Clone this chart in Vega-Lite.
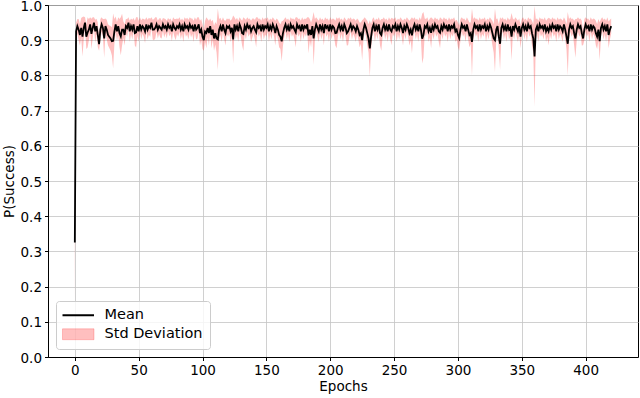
{
"$schema": "https://vega.github.io/schema/vega-lite/v6.json",
"autosize": {"type": "none"},
"width": 590,
"height": 352,
"padding": {"left": 48, "top": 5, "right": 2, "bottom": 41},
"background": "white",
"config": {
  "view": {"stroke": "#000000", "strokeWidth": 1},
  "axis": {"labelFont": "DejaVu Sans", "labelFontSize": 13.5, "labelColor": "#000000", "titleFont": "DejaVu Sans", "titleFontSize": 13.5, "titleFontWeight": "normal", "titleColor": "#000000", "domainColor": "#000000", "tickColor": "#000000", "tickSize": 3.5, "labelPadding": 3, "gridColor": "#c4c4c4", "gridWidth": 0.8, "domainWidth": 1, "tickWidth": 1, "labelOverlap": false, "labelBound": false},
  "legend": {"labelFont": "DejaVu Sans", "labelFontSize": 14.5, "labelColor": "#000000"}
},
"data": {"values": [
{"e":0,"m":0.325,"s":0.17},
{"e":1,"m":0.925,"s":0.025},{"e":2,"m":0.94,"s":0.02},{"e":3,"m":0.93,"s":0.03},{"e":4,"m":0.915,"s":0.03},{"e":5,"m":0.935,"s":0.028},{"e":6,"m":0.91,"s":0.056},{"e":7,"m":0.935,"s":0.032},{"e":8,"m":0.95,"s":0.015},{"e":9,"m":0.91,"s":0.035},{"e":10,"m":0.922,"s":0.043},
{"e":11,"m":0.93,"s":0.03},{"e":12,"m":0.945,"s":0.02},{"e":13,"m":0.918,"s":0.043},{"e":14,"m":0.935,"s":0.03},{"e":15,"m":0.95,"s":0.015},{"e":16,"m":0.925,"s":0.033},{"e":17,"m":0.94,"s":0.021},{"e":18,"m":0.915,"s":0.035},{"e":19,"m":0.889,"s":0.019},{"e":20,"m":0.93,"s":0.03},
{"e":21,"m":0.945,"s":0.02},{"e":22,"m":0.935,"s":0.025},{"e":23,"m":0.905,"s":0.055},{"e":24,"m":0.94,"s":0.022},{"e":25,"m":0.93,"s":0.028},{"e":26,"m":0.915,"s":0.03},{"e":27,"m":0.91,"s":0.032},{"e":28,"m":0.905,"s":0.035},{"e":29,"m":0.897,"s":0.04},{"e":30,"m":0.898,"s":0.078},
{"e":31,"m":0.925,"s":0.035},{"e":32,"m":0.945,"s":0.022},{"e":33,"m":0.925,"s":0.027},{"e":34,"m":0.94,"s":0.025},{"e":35,"m":0.92,"s":0.04},{"e":36,"m":0.911,"s":0.054},{"e":37,"m":0.93,"s":0.045},{"e":38,"m":0.93,"s":0.024},{"e":39,"m":0.915,"s":0.03},{"e":40,"m":0.94,"s":0.02},
{"e":41,"m":0.935,"s":0.025},{"e":42,"m":0.95,"s":0.015},{"e":43,"m":0.925,"s":0.03},{"e":44,"m":0.94,"s":0.022},{"e":45,"m":0.93,"s":0.028},{"e":46,"m":0.945,"s":0.018},{"e":47,"m":0.92,"s":0.035},{"e":48,"m":0.922,"s":0.043},{"e":49,"m":0.94,"s":0.026},{"e":50,"m":0.925,"s":0.03},
{"e":51,"m":0.945,"s":0.02},{"e":52,"m":0.93,"s":0.027},{"e":53,"m":0.94,"s":0.022},{"e":54,"m":0.935,"s":0.025},{"e":55,"m":0.925,"s":0.033},{"e":56,"m":0.945,"s":0.02},{"e":57,"m":0.93,"s":0.028},{"e":58,"m":0.94,"s":0.024},{"e":59,"m":0.935,"s":0.026},{"e":60,"m":0.95,"s":0.015},
{"e":61,"m":0.93,"s":0.028},{"e":62,"m":0.93,"s":0.03},{"e":63,"m":0.935,"s":0.03},{"e":64,"m":0.945,"s":0.02},{"e":65,"m":0.93,"s":0.025},{"e":66,"m":0.94,"s":0.022},{"e":67,"m":0.935,"s":0.028},{"e":68,"m":0.93,"s":0.025},{"e":69,"m":0.945,"s":0.018},{"e":70,"m":0.935,"s":0.027},
{"e":71,"m":0.94,"s":0.02},{"e":72,"m":0.93,"s":0.025},{"e":73,"m":0.945,"s":0.018},{"e":74,"m":0.935,"s":0.024},{"e":75,"m":0.94,"s":0.022},{"e":76,"m":0.925,"s":0.028},{"e":77,"m":0.945,"s":0.02},{"e":78,"m":0.935,"s":0.025},{"e":79,"m":0.93,"s":0.03},{"e":80,"m":0.94,"s":0.022},
{"e":81,"m":0.935,"s":0.025},{"e":82,"m":0.945,"s":0.02},{"e":83,"m":0.93,"s":0.027},{"e":84,"m":0.94,"s":0.022},{"e":85,"m":0.925,"s":0.03},{"e":86,"m":0.945,"s":0.02},{"e":87,"m":0.935,"s":0.025},{"e":88,"m":0.94,"s":0.024},{"e":89,"m":0.93,"s":0.028},{"e":90,"m":0.945,"s":0.02},
{"e":91,"m":0.935,"s":0.027},{"e":92,"m":0.94,"s":0.022},{"e":93,"m":0.925,"s":0.03},{"e":94,"m":0.945,"s":0.02},{"e":95,"m":0.93,"s":0.028},{"e":96,"m":0.935,"s":0.03},{"e":97,"m":0.945,"s":0.02},{"e":98,"m":0.92,"s":0.035},{"e":99,"m":0.93,"s":0.03},{"e":100,"m":0.91,"s":0.035},
{"e":101,"m":0.9,"s":0.03},{"e":102,"m":0.925,"s":0.03},{"e":103,"m":0.921,"s":0.044},{"e":104,"m":0.935,"s":0.025},{"e":105,"m":0.92,"s":0.035},{"e":106,"m":0.94,"s":0.022},{"e":107,"m":0.915,"s":0.038},{"e":108,"m":0.93,"s":0.028},{"e":109,"m":0.905,"s":0.035},{"e":110,"m":0.92,"s":0.032},
{"e":111,"m":0.905,"s":0.04},{"e":112,"m":0.9025,"s":0.0875},{"e":113,"m":0.93,"s":0.03},{"e":114,"m":0.94,"s":0.024},{"e":115,"m":0.925,"s":0.03},{"e":116,"m":0.945,"s":0.02},{"e":117,"m":0.93,"s":0.027},{"e":118,"m":0.92,"s":0.035},{"e":119,"m":0.94,"s":0.022},{"e":120,"m":0.935,"s":0.025},
{"e":121,"m":0.94,"s":0.022},{"e":122,"m":0.925,"s":0.03},{"e":123,"m":0.935,"s":0.025},{"e":124,"m":0.902,"s":0.068},{"e":125,"m":0.945,"s":0.02},{"e":126,"m":0.93,"s":0.028},{"e":127,"m":0.94,"s":0.024},{"e":128,"m":0.925,"s":0.03},{"e":129,"m":0.945,"s":0.02},{"e":130,"m":0.935,"s":0.025},
{"e":131,"m":0.92,"s":0.035},{"e":132,"m":0.9175,"s":0.0475},{"e":133,"m":0.94,"s":0.022},{"e":134,"m":0.93,"s":0.028},{"e":135,"m":0.945,"s":0.02},{"e":136,"m":0.935,"s":0.025},{"e":137,"m":0.94,"s":0.022},{"e":138,"m":0.925,"s":0.03},{"e":139,"m":0.935,"s":0.027},{"e":140,"m":0.94,"s":0.022},
{"e":141,"m":0.93,"s":0.028},{"e":142,"m":0.9225,"s":0.0425},{"e":143,"m":0.945,"s":0.02},{"e":144,"m":0.935,"s":0.025},{"e":145,"m":0.94,"s":0.022},{"e":146,"m":0.925,"s":0.03},{"e":147,"m":0.945,"s":0.02},{"e":148,"m":0.93,"s":0.028},{"e":149,"m":0.94,"s":0.024},{"e":150,"m":0.935,"s":0.025},
{"e":151,"m":0.945,"s":0.02},{"e":152,"m":0.925,"s":0.03},{"e":153,"m":0.94,"s":0.022},{"e":154,"m":0.93,"s":0.028},{"e":155,"m":0.945,"s":0.02},{"e":156,"m":0.935,"s":0.025},{"e":157,"m":0.92,"s":0.035},{"e":158,"m":0.94,"s":0.022},{"e":159,"m":0.93,"s":0.028},{"e":160,"m":0.915,"s":0.035},
{"e":161,"m":0.91,"s":0.035},{"e":162,"m":0.897,"s":0.057},{"e":163,"m":0.92,"s":0.035},{"e":164,"m":0.935,"s":0.025},{"e":165,"m":0.945,"s":0.02},{"e":166,"m":0.93,"s":0.028},{"e":167,"m":0.94,"s":0.022},{"e":168,"m":0.925,"s":0.03},{"e":169,"m":0.945,"s":0.02},{"e":170,"m":0.935,"s":0.025},
{"e":171,"m":0.94,"s":0.022},{"e":172,"m":0.93,"s":0.028},{"e":173,"m":0.9225,"s":0.0425},{"e":174,"m":0.945,"s":0.02},{"e":175,"m":0.935,"s":0.025},{"e":176,"m":0.94,"s":0.022},{"e":177,"m":0.925,"s":0.03},{"e":178,"m":0.945,"s":0.02},{"e":179,"m":0.93,"s":0.028},{"e":180,"m":0.94,"s":0.022},
{"e":181,"m":0.935,"s":0.025},{"e":182,"m":0.945,"s":0.02},{"e":183,"m":0.914,"s":0.051},{"e":184,"m":0.93,"s":0.03},{"e":185,"m":0.915,"s":0.035},{"e":186,"m":0.94,"s":0.022},{"e":187,"m":0.905,"s":0.075},{"e":188,"m":0.93,"s":0.03},{"e":189,"m":0.945,"s":0.02},{"e":190,"m":0.935,"s":0.025},
{"e":191,"m":0.925,"s":0.03},{"e":192,"m":0.945,"s":0.02},{"e":193,"m":0.93,"s":0.028},{"e":194,"m":0.94,"s":0.022},{"e":195,"m":0.92,"s":0.035},{"e":196,"m":0.945,"s":0.02},{"e":197,"m":0.935,"s":0.025},{"e":198,"m":0.94,"s":0.022},{"e":199,"m":0.925,"s":0.03},{"e":200,"m":0.945,"s":0.02},
{"e":201,"m":0.93,"s":0.028},{"e":202,"m":0.94,"s":0.022},{"e":203,"m":0.935,"s":0.025},{"e":204,"m":0.92,"s":0.035},{"e":205,"m":0.921,"s":0.044},{"e":206,"m":0.935,"s":0.025},{"e":207,"m":0.945,"s":0.02},{"e":208,"m":0.93,"s":0.028},{"e":209,"m":0.94,"s":0.022},{"e":210,"m":0.925,"s":0.03},
{"e":211,"m":0.945,"s":0.02},{"e":212,"m":0.935,"s":0.025},{"e":213,"m":0.92,"s":0.035},{"e":214,"m":0.925,"s":0.039},{"e":215,"m":0.935,"s":0.025},{"e":216,"m":0.945,"s":0.02},{"e":217,"m":0.93,"s":0.028},{"e":218,"m":0.94,"s":0.022},{"e":219,"m":0.935,"s":0.025},{"e":220,"m":0.925,"s":0.03},
{"e":221,"m":0.94,"s":0.022},{"e":222,"m":0.93,"s":0.028},{"e":223,"m":0.915,"s":0.035},{"e":224,"m":0.92,"s":0.03},{"e":225,"m":0.9,"s":0.057},{"e":226,"m":0.93,"s":0.03},{"e":227,"m":0.945,"s":0.02},{"e":228,"m":0.935,"s":0.025},{"e":229,"m":0.92,"s":0.035},{"e":230,"m":0.905,"s":0.04},
{"e":231,"m":0.877,"s":0.08},{"e":232,"m":0.91,"s":0.035},{"e":233,"m":0.935,"s":0.025},{"e":234,"m":0.945,"s":0.02},{"e":235,"m":0.925,"s":0.03},{"e":236,"m":0.94,"s":0.022},{"e":237,"m":0.93,"s":0.028},{"e":238,"m":0.945,"s":0.02},{"e":239,"m":0.92,"s":0.035},{"e":240,"m":0.915,"s":0.045},
{"e":241,"m":0.935,"s":0.025},{"e":242,"m":0.945,"s":0.02},{"e":243,"m":0.93,"s":0.028},{"e":244,"m":0.94,"s":0.022},{"e":245,"m":0.925,"s":0.03},{"e":246,"m":0.945,"s":0.02},{"e":247,"m":0.93,"s":0.028},{"e":248,"m":0.925,"s":0.039},{"e":249,"m":0.94,"s":0.022},{"e":250,"m":0.935,"s":0.025},
{"e":251,"m":0.945,"s":0.02},{"e":252,"m":0.925,"s":0.03},{"e":253,"m":0.94,"s":0.022},{"e":254,"m":0.93,"s":0.028},{"e":255,"m":0.945,"s":0.02},{"e":256,"m":0.935,"s":0.025},{"e":257,"m":0.92,"s":0.035},{"e":258,"m":0.94,"s":0.022},{"e":259,"m":0.93,"s":0.028},{"e":260,"m":0.945,"s":0.02},
{"e":261,"m":0.935,"s":0.025},{"e":262,"m":0.92,"s":0.035},{"e":263,"m":0.93,"s":0.03},{"e":264,"m":0.914,"s":0.051},{"e":265,"m":0.935,"s":0.025},{"e":266,"m":0.945,"s":0.02},{"e":267,"m":0.93,"s":0.028},{"e":268,"m":0.94,"s":0.022},{"e":269,"m":0.925,"s":0.03},{"e":270,"m":0.945,"s":0.02},
{"e":271,"m":0.93,"s":0.028},{"e":272,"m":0.9045,"s":0.0705},{"e":273,"m":0.915,"s":0.065},{"e":274,"m":0.94,"s":0.022},{"e":275,"m":0.935,"s":0.025},{"e":276,"m":0.945,"s":0.02},{"e":277,"m":0.925,"s":0.03},{"e":278,"m":0.935,"s":0.027},{"e":279,"m":0.921,"s":0.044},{"e":280,"m":0.94,"s":0.022},
{"e":281,"m":0.93,"s":0.028},{"e":282,"m":0.945,"s":0.02},{"e":283,"m":0.935,"s":0.025},{"e":284,"m":0.94,"s":0.022},{"e":285,"m":0.925,"s":0.03},{"e":286,"m":0.921,"s":0.044},{"e":287,"m":0.94,"s":0.022},{"e":288,"m":0.93,"s":0.028},{"e":289,"m":0.945,"s":0.02},{"e":290,"m":0.935,"s":0.025},
{"e":291,"m":0.94,"s":0.022},{"e":292,"m":0.925,"s":0.03},{"e":293,"m":0.945,"s":0.02},{"e":294,"m":0.93,"s":0.028},{"e":295,"m":0.94,"s":0.022},{"e":296,"m":0.935,"s":0.025},{"e":297,"m":0.945,"s":0.02},{"e":298,"m":0.925,"s":0.03},{"e":299,"m":0.93,"s":0.028},{"e":300,"m":0.915,"s":0.035},
{"e":301,"m":0.906,"s":0.036},{"e":302,"m":0.93,"s":0.03},{"e":303,"m":0.945,"s":0.02},{"e":304,"m":0.935,"s":0.025},{"e":305,"m":0.94,"s":0.022},{"e":306,"m":0.925,"s":0.03},{"e":307,"m":0.945,"s":0.02},{"e":308,"m":0.93,"s":0.028},{"e":309,"m":0.915,"s":0.035},{"e":310,"m":0.92,"s":0.03},
{"e":311,"m":0.895,"s":0.095},{"e":312,"m":0.93,"s":0.03},{"e":313,"m":0.945,"s":0.02},{"e":314,"m":0.935,"s":0.025},{"e":315,"m":0.94,"s":0.022},{"e":316,"m":0.925,"s":0.03},{"e":317,"m":0.945,"s":0.02},{"e":318,"m":0.93,"s":0.028},{"e":319,"m":0.94,"s":0.022},{"e":320,"m":0.935,"s":0.025},
{"e":321,"m":0.945,"s":0.02},{"e":322,"m":0.925,"s":0.03},{"e":323,"m":0.94,"s":0.022},{"e":324,"m":0.93,"s":0.028},{"e":325,"m":0.945,"s":0.02},{"e":326,"m":0.935,"s":0.025},{"e":327,"m":0.92,"s":0.035},{"e":328,"m":0.905,"s":0.04},{"e":329,"m":0.9,"s":0.09},{"e":330,"m":0.93,"s":0.03},
{"e":331,"m":0.94,"s":0.022},{"e":332,"m":0.91,"s":0.035},{"e":333,"m":0.89,"s":0.075},{"e":334,"m":0.935,"s":0.025},{"e":335,"m":0.945,"s":0.02},{"e":336,"m":0.93,"s":0.028},{"e":337,"m":0.94,"s":0.022},{"e":338,"m":0.925,"s":0.03},{"e":339,"m":0.945,"s":0.02},{"e":340,"m":0.93,"s":0.028},
{"e":341,"m":0.935,"s":0.025},{"e":342,"m":0.91,"s":0.067},{"e":343,"m":0.94,"s":0.022},{"e":344,"m":0.93,"s":0.028},{"e":345,"m":0.945,"s":0.02},{"e":346,"m":0.935,"s":0.025},{"e":347,"m":0.925,"s":0.03},{"e":348,"m":0.94,"s":0.022},{"e":349,"m":0.91,"s":0.033},{"e":350,"m":0.935,"s":0.025},
{"e":351,"m":0.945,"s":0.02},{"e":352,"m":0.93,"s":0.028},{"e":353,"m":0.94,"s":0.022},{"e":354,"m":0.925,"s":0.03},{"e":355,"m":0.945,"s":0.02},{"e":356,"m":0.935,"s":0.025},{"e":357,"m":0.94,"s":0.022},{"e":358,"m":0.92,"s":0.035},{"e":359,"m":0.905,"s":0.04},{"e":360,"m":0.854,"s":0.143},
{"e":361,"m":0.93,"s":0.03},{"e":362,"m":0.94,"s":0.022},{"e":363,"m":0.925,"s":0.03},{"e":364,"m":0.945,"s":0.02},{"e":365,"m":0.935,"s":0.025},{"e":366,"m":0.94,"s":0.022},{"e":367,"m":0.93,"s":0.028},{"e":368,"m":0.945,"s":0.02},{"e":369,"m":0.925,"s":0.03},{"e":370,"m":0.935,"s":0.025},
{"e":371,"m":0.925,"s":0.039},{"e":372,"m":0.94,"s":0.022},{"e":373,"m":0.93,"s":0.028},{"e":374,"m":0.945,"s":0.02},{"e":375,"m":0.935,"s":0.025},{"e":376,"m":0.94,"s":0.022},{"e":377,"m":0.925,"s":0.03},{"e":378,"m":0.945,"s":0.02},{"e":379,"m":0.93,"s":0.028},{"e":380,"m":0.94,"s":0.022},
{"e":381,"m":0.935,"s":0.025},{"e":382,"m":0.925,"s":0.03},{"e":383,"m":0.945,"s":0.02},{"e":384,"m":0.93,"s":0.028},{"e":385,"m":0.91,"s":0.035},{"e":386,"m":0.89,"s":0.09},{"e":387,"m":0.93,"s":0.03},{"e":388,"m":0.945,"s":0.02},{"e":389,"m":0.935,"s":0.025},{"e":390,"m":0.94,"s":0.022},
{"e":391,"m":0.92,"s":0.035},{"e":392,"m":0.905,"s":0.055},{"e":393,"m":0.93,"s":0.03},{"e":394,"m":0.945,"s":0.02},{"e":395,"m":0.935,"s":0.025},{"e":396,"m":0.94,"s":0.022},{"e":397,"m":0.92,"s":0.035},{"e":398,"m":0.905,"s":0.019},{"e":399,"m":0.93,"s":0.03},{"e":400,"m":0.945,"s":0.02},
{"e":401,"m":0.935,"s":0.025},{"e":402,"m":0.94,"s":0.022},{"e":403,"m":0.925,"s":0.03},{"e":404,"m":0.945,"s":0.02},{"e":405,"m":0.93,"s":0.028},{"e":406,"m":0.94,"s":0.022},{"e":407,"m":0.935,"s":0.025},{"e":408,"m":0.92,"s":0.035},{"e":409,"m":0.91,"s":0.035},{"e":410,"m":0.93,"s":0.03},
{"e":411,"m":0.897,"s":0.054},{"e":412,"m":0.935,"s":0.025},{"e":413,"m":0.945,"s":0.02},{"e":414,"m":0.93,"s":0.028},{"e":415,"m":0.94,"s":0.022},{"e":416,"m":0.925,"s":0.03},{"e":417,"m":0.945,"s":0.02},{"e":418,"m":0.915,"s":0.038},{"e":419,"m":0.93,"s":0.028},{"e":420,"m":0.94,"s":0.022}
]},
"encoding": {
  "x": {"field": "e", "type": "quantitative", "scale": {"domain": [-21, 441], "nice": false, "zero": false},
        "axis": {"title": "Epochs", "values": [0,50,100,150,200,250,300,350,400], "labelAngle": 0, "titlePadding": 2}},
  "y": {"field": "m", "type": "quantitative", "scale": {"domain": [0, 1], "nice": false},
        "axis": {"title": "P(Success)", "values": [0,0.1,0.2,0.3,0.4,0.5,0.6,0.7,0.8,0.9,1.0], "format": ".1f", "titlePadding": 4, "labelOffset": 1}}
},
"layer": [
  {
    "mark": {"type": "errorband", "opacity": 0.25},
    "encoding": {
      "yError": {"field": "s"},
      "color": {"datum": "Std Deviation", "type": "nominal"}
    }
  },
  {
    "mark": {"type": "line", "strokeWidth": 1.8},
    "encoding": {
      "color": {"datum": "Mean", "type": "nominal",
        "scale": {"domain": ["Mean", "Std Deviation"], "range": ["#000000", "#ff0000"]},
        "legend": {"title": null, "orient": "bottom-left", "offset": 8, "padding": 7,
          "fillColor": "rgba(255,255,255,0.8)", "strokeColor": "#cccccc", "cornerRadius": 3,
          "symbolSize": 441, "symbolOffset": 8, "labelOffset": 19, "rowPadding": 4,
          "encode": {
            "symbols": {"update": {
            "shape": {"signal": "datum.value === 'Mean' ? 'M-1.5,0H1.5' : 'M-1.5,-0.52H1.5V0.52H-1.5Z'"},
            "fill": {"signal": "datum.value === 'Mean' ? 'transparent' : '#ff0000'"},
            "fillOpacity": {"signal": "datum.value === 'Mean' ? 0 : 0.25"},
            "stroke": {"signal": "datum.value === 'Mean' ? '#000000' : '#ff0000'"},
            "strokeOpacity": {"signal": "datum.value === 'Mean' ? 1 : 0.25"},
            "strokeWidth": {"signal": "datum.value === 'Mean' ? 2 : 0.8"},
            "opacity": {"value": 1}
          }}}
        }}
    }
  }
]
}
